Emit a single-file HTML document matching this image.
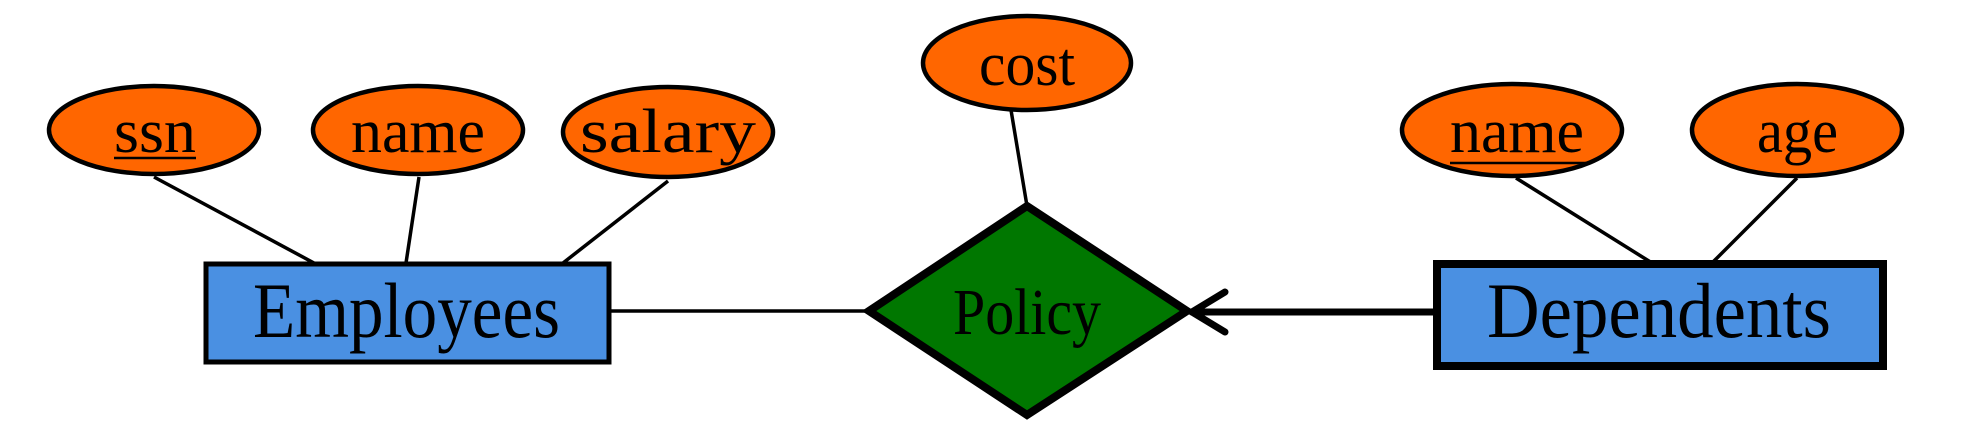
<!DOCTYPE html>
<html><head><meta charset="utf-8"><style>html,body{margin:0;padding:0;background:#fff}svg{display:block}</style></head>
<body>
<svg width="1984" height="442" viewBox="0 0 1984 442" xmlns="http://www.w3.org/2000/svg" font-family="Liberation Serif, serif">
<g stroke="#000" stroke-width="3.5" fill="none">
<line x1="154" y1="177" x2="314" y2="263"/>
<line x1="419" y1="177" x2="406" y2="263"/>
<line x1="668" y1="181" x2="563" y2="263"/>
<line x1="1011" y1="110" x2="1027" y2="206"/>
<line x1="1516" y1="178" x2="1652" y2="263"/>
<line x1="1797" y1="178" x2="1712" y2="263"/>
<line x1="609" y1="311" x2="869" y2="311"/>
</g>
<g fill="#ff6600" stroke="#000" stroke-width="4.5">
<ellipse cx="154" cy="130" rx="105" ry="44"/>
<ellipse cx="418" cy="130" rx="105" ry="44"/>
<ellipse cx="668" cy="132" rx="105" ry="45"/>
<ellipse cx="1027" cy="63" rx="104" ry="47"/>
<ellipse cx="1512" cy="130" rx="110" ry="46"/>
<ellipse cx="1797" cy="130" rx="105" ry="46"/>
</g>
<rect x="206" y="264" width="403" height="98" fill="#4a90e2" stroke="#000" stroke-width="5"/>
<rect x="1437" y="264" width="446" height="102" fill="#4a90e2" stroke="#000" stroke-width="8"/>
<polygon points="869,311 1027,206 1187,311 1027,415" fill="#007700" stroke="#000" stroke-width="8" stroke-linejoin="miter"/>
<g stroke="#000" stroke-width="7" stroke-linecap="round" fill="none">
<line x1="1437" y1="312" x2="1192" y2="312"/>
<polyline points="1225,292 1192,312 1225,332"/>
</g>
<g fill="#000" font-size="62" text-anchor="start">
<text x="114" y="152" textLength="82" lengthAdjust="spacingAndGlyphs">ssn</text>
<text x="351" y="152" textLength="134" lengthAdjust="spacingAndGlyphs">name</text>
<text x="580" y="152" textLength="176" lengthAdjust="spacingAndGlyphs">salary</text>
<text x="979" y="85" textLength="96" lengthAdjust="spacingAndGlyphs">cost</text>
<text x="1450" y="152" textLength="134" lengthAdjust="spacingAndGlyphs">name</text>
<text x="1757" y="152" textLength="81" lengthAdjust="spacingAndGlyphs">age</text>
<text x="953" y="334" textLength="148" lengthAdjust="spacingAndGlyphs" font-size="66">Policy</text>
<text x="253" y="337" textLength="307" lengthAdjust="spacingAndGlyphs" font-size="78">Employees</text>
<text x="1487" y="337" textLength="344" lengthAdjust="spacingAndGlyphs" font-size="78">Dependents</text>
</g>
<line x1="114" y1="158" x2="196" y2="158" stroke="#000" stroke-width="2.5"/>
<line x1="1450" y1="163" x2="1586" y2="163" stroke="#000" stroke-width="2.5"/>
</svg>
</body></html>
